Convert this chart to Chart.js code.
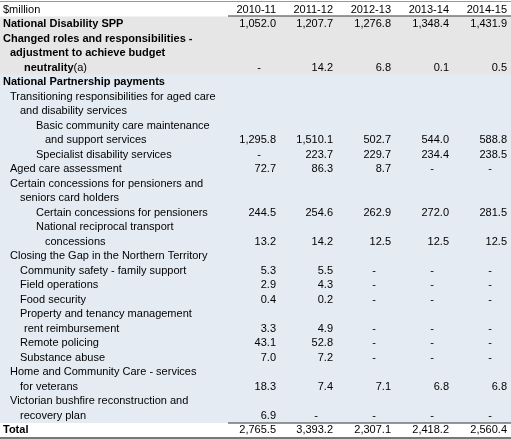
<!DOCTYPE html>
<html><head><meta charset="utf-8">
<script src="https://cdn.jsdelivr.net/npm/chart.js@4"></script>
<style>html,body{margin:0;padding:0;background:#fff}#w{width:511px;height:439px}</style>
</head><body><div id="w"><canvas id="c"></canvas></div>
<script>
const years = ['2010-11','2011-12','2012-13','2013-14','2014-15'];
const rowLabels = ['$million','National Disability SPP','Changed roles and responsibilities -','adjustment to achieve budget','neutrality','National Partnership payments','Transitioning responsibilities for aged care','and disability services','Basic community care maintenance','and support services','Specialist disability services','Aged care assessment','Certain concessions for pensioners and','seniors card holders','Certain concessions for pensioners','National reciprocal transport','concessions','Closing the Gap in the Northern Territory','Community safety - family support','Field operations','Food security','Property and tenancy management','rent reimbursement','Remote policing','Substance abuse','Home and Community Care - services','for veterans','Victorian bushfire reconstruction and','recovery plan','Total'];
const labelSuffix = {4:'(a)'};
const indentLevel = [0,0,0,1,3,0,1,2,4,5,4,1,1,2,4,4,5,1,2,2,2,2,3,2,2,1,2,1,2,0];
const boldRows = [1,2,3,4,5,29];
const v2010 = {1:1052.0,4:'-',9:1295.8,10:'-',11:72.7,14:244.5,16:13.2,18:5.3,19:2.9,20:0.4,22:3.3,23:43.1,24:7.0,26:18.3,28:6.9,29:2765.5};
const v2011 = {1:1207.7,4:14.2,9:1510.1,10:223.7,11:86.3,14:254.6,16:14.2,18:5.5,19:4.3,20:0.2,22:4.9,23:52.8,24:7.2,26:7.4,28:'-',29:3393.2};
const v2012 = {1:1276.8,4:6.8,9:502.7,10:229.7,11:8.7,14:262.9,16:12.5,18:'-',19:'-',20:'-',22:'-',23:'-',24:'-',26:7.1,28:'-',29:2307.1};
const v2013 = {1:1348.4,4:0.1,9:544.0,10:234.4,11:'-',14:272.0,16:12.5,18:'-',19:'-',20:'-',22:'-',23:'-',24:'-',26:6.8,28:'-',29:2418.2};
const v2014 = {1:1431.9,4:0.5,9:588.8,10:238.5,11:'-',14:281.5,16:12.5,18:'-',19:'-',20:'-',22:'-',23:'-',24:'-',26:6.8,28:'-',29:2560.4};
const colValues = [v2010,v2011,v2012,v2013,v2014];

const colRight = [276,333,391,449,507];
const indentPx = [3,10,20,24,36,45];
const rowIdx = rowLabels.map((_,i)=>String(i));
const fmt = n => n.toLocaleString('en-US',{minimumFractionDigits:1,maximumFractionDigits:1});

const tablePlugin = {
  id:'table',
  beforeDatasetsDraw(chart){
    const ctx = chart.ctx, y = chart.scales.y, x = chart.scales.x;
    const h = Math.abs(y.getPixelForValue('1') - y.getPixelForValue('0'));
    ctx.save();
    rowLabels.forEach((_,i)=>{
      const cy = y.getPixelForValue(String(i));
      let bg = null;
      if (i>=1 && i<=4) bg = '#e6e6e6';
      else if (i>=5 && i<=28) bg = '#e4ebf3';
      if (bg){ ctx.fillStyle = bg; ctx.fillRect(x.getPixelForValue(0), cy-h/2, x.getPixelForValue(511)-x.getPixelForValue(0), h+0.5); }
    });
    const top = y.getPixelForValue('0')-h/2, bot = y.getPixelForValue('29')+h/2;
    ctx.fillStyle='#999'; ctx.fillRect(0, top-1, 511, 1);
    ctx.fillStyle='#777'; ctx.fillRect(0, bot, 511, 2);
    ctx.fillStyle='#333';
    ctx.fillRect(x.getPixelForValue(228), top+h-1, 283, 1);
    ctx.fillRect(x.getPixelForValue(228), y.getPixelForValue('29')-h/2, 283, 1);
    ctx.textBaseline='middle';
    ctx.fillStyle='#000';
    rowLabels.forEach((lab,i)=>{
      const cy = y.getPixelForValue(String(i))+0.5;
      const bold = boldRows.includes(i);
      ctx.font = (bold?'bold ':'')+'11px "Liberation Sans", Arial, sans-serif';
      ctx.textAlign='left';
      const lx = x.getPixelForValue(indentPx[indentLevel[i]]);
      ctx.fillText(lab, lx, cy);
      if (labelSuffix[i]){
        const w = ctx.measureText(lab).width;
        ctx.font = '11px "Liberation Sans", Arial, sans-serif';
        ctx.fillText(labelSuffix[i], lx+w, cy);
      }
      ctx.font = '11px "Liberation Sans", Arial, sans-serif';
      if (i===0){
        ctx.textAlign='right';
        years.forEach((yr,c)=>ctx.fillText(yr, x.getPixelForValue(colRight[c]), cy));
        return;
      }
      colValues.forEach((col,c)=>{
        const val = col[i];
        if (val===undefined) return;
        if (val==='-'){ ctx.textAlign='center'; ctx.fillText('-', x.getPixelForValue(colRight[c]-17), cy); }
        else { ctx.textAlign='right'; ctx.fillText(fmt(val), x.getPixelForValue(colRight[c]), cy); }
      });
    });
    ctx.restore();
  }
};

new Chart(document.getElementById('c'),{
  type:'bar',
  data:{labels:rowIdx, datasets:[{data:[], backgroundColor:'transparent'}]},
  options:{
    indexAxis:'y', responsive:true, maintainAspectRatio:false, animation:false,
    layout:{padding:{top:2,bottom:2,left:0,right:0}},
    plugins:{legend:{display:false},tooltip:{enabled:false}},
    scales:{
      x:{type:'linear',min:0,max:511,display:false},
      y:{type:'category',display:false,offset:true}
    }
  },
  plugins:[tablePlugin]
});
</script></body></html>
